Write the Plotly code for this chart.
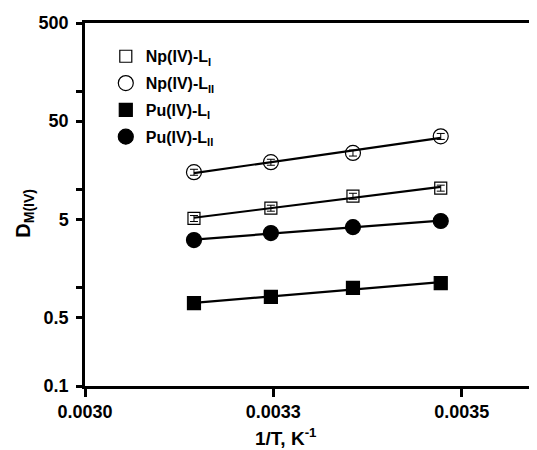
import numpy as np
import plotly.graph_objects as go

# 1/T values (K^-1)
inv_T = [1/318, 1/308, 1/298, 1/288]

np_LI = [5.1, 6.5, 8.6, 10.4]
np_LII = [15.1, 19.1, 23.7, 35.0]
pu_LI = [0.70, 0.81, 1.0, 1.12]
pu_LII = [3.07, 3.62, 4.16, 4.8]

series = [
    ("<b>Np(IV)-L<sub>I</sub></b>", np_LI, "square-open", 12),
    ("<b>Np(IV)-L<sub>II</sub></b>", np_LII, "circle-open", 15),
    ("<b>Pu(IV)-L<sub>I</sub></b>", pu_LI, "square", 13),
    ("<b>Pu(IV)-L<sub>II</sub></b>", pu_LII, "circle", 15),
]

x_ticks = [0.0030, 0.00325, 0.0035]
x_ticktext = ["<b>0.0030</b>", "<b>0.0033</b>", "<b>0.0035</b>"]
y_ticks = [0.1, 0.5, 1, 5, 10, 50, 100, 500]
y_ticktext = ["<b>0.1</b>", "<b>0.5</b>", "", "<b>5</b>", "", "<b>50</b>", "", "<b>500</b>"]
x_title = "<b>1/T, K<sup>-1</sup></b>"
y_title = "<b>D<sub>M(IV)</sub></b>"

FONT = "Liberation Sans, Arial, sans-serif"

fig = go.Figure()
xs = np.array(inv_T)
for i, (name, vals, sym, size) in enumerate(series):
    v = np.array(vals)
    coef = np.polyfit(xs, np.log10(v), 1)
    fit = 10 ** np.polyval(coef, xs)
    fig.add_trace(go.Scatter(
        x=xs, y=fit, mode="lines", line=dict(color="black", width=2.2),
        showlegend=False, hoverinfo="skip"))
    fig.add_trace(go.Scatter(
        x=xs, y=v, mode="markers", name=name, legendgroup=f"g{i}",
        marker=dict(symbol=sym, size=size, color="black",
                    line=dict(color="black", width=1.2)),
        error_y=dict(type="percent", value=7, color="black", thickness=1, width=4),
    ))

# the page places the figure 8px in from the top-left corner of the window
fig.update_layout(
    width=529, height=442,
    margin=dict(l=77, r=0, t=15, b=64),
    plot_bgcolor="white", paper_bgcolor="white",
    font=dict(family=FONT, color="black", size=16),
    showlegend=True,
    legend=dict(x=0.046, y=0.955, xanchor="left", yanchor="top",
                bgcolor="rgba(0,0,0,0)", font=dict(size=16, family=FONT, color="black"),
                tracegroupgap=3, itemwidth=30),
    xaxis=dict(
        range=[0.0030, 0.0036], tickmode="array", tickvals=x_ticks, ticktext=x_ticktext,
        showline=True, linecolor="black", linewidth=2.5, mirror=True,
        ticks="outside", ticklen=8, tickwidth=2.5, tickcolor="black",
        showgrid=False, zeroline=False, automargin=False,
        tickfont=dict(size=18, family=FONT, color="black"),
    ),
    yaxis=dict(
        type="log", range=[-1, np.log10(500)], tickmode="array",
        tickvals=y_ticks, ticktext=y_ticktext,
        showline=True, linecolor="black", linewidth=2.5,
        ticks="outside", ticklen=6, tickwidth=2.5, tickcolor="black",
        ticklabelstandoff=4,
        showgrid=False, zeroline=False, automargin=False,
        tickfont=dict(size=18, family=FONT, color="black"),
    ),
    yaxis2=dict(
        type="log", range=[-1, np.log10(500)], overlaying="y", side="right",
        tickmode="array", tickvals=[1, 10, 100], showticklabels=False,
        ticks="inside", ticklen=6, tickwidth=2.5, tickcolor="black",
        minor=dict(tickmode="array", tickvals=[0.5, 5, 50], ticks="inside", ticklen=3,
                   tickwidth=2.5, tickcolor="black"),
        showline=True, linecolor="#bbbbbb", linewidth=1, automargin=False,
        showgrid=False, zeroline=False,
    ),
    annotations=[
        dict(text=x_title, xref="paper", yref="paper", x=0.445, y=-0.14,
             xanchor="center", yanchor="middle", showarrow=False,
             font=dict(size=19, family=FONT, color="black")),
        dict(text=y_title, xref="paper", yref="paper", x=-0.133, y=0.477,
             xanchor="center", yanchor="middle", showarrow=False, textangle=-90,
             font=dict(size=20, family=FONT, color="black")),
    ],
)
# invisible trace to activate right axis
fig.add_trace(go.Scatter(x=[inv_T[0]], y=[np_LI[0]], yaxis="y2", mode="markers",
                         marker=dict(opacity=0), showlegend=False, hoverinfo="skip"))

fig.write_html("out.html")
